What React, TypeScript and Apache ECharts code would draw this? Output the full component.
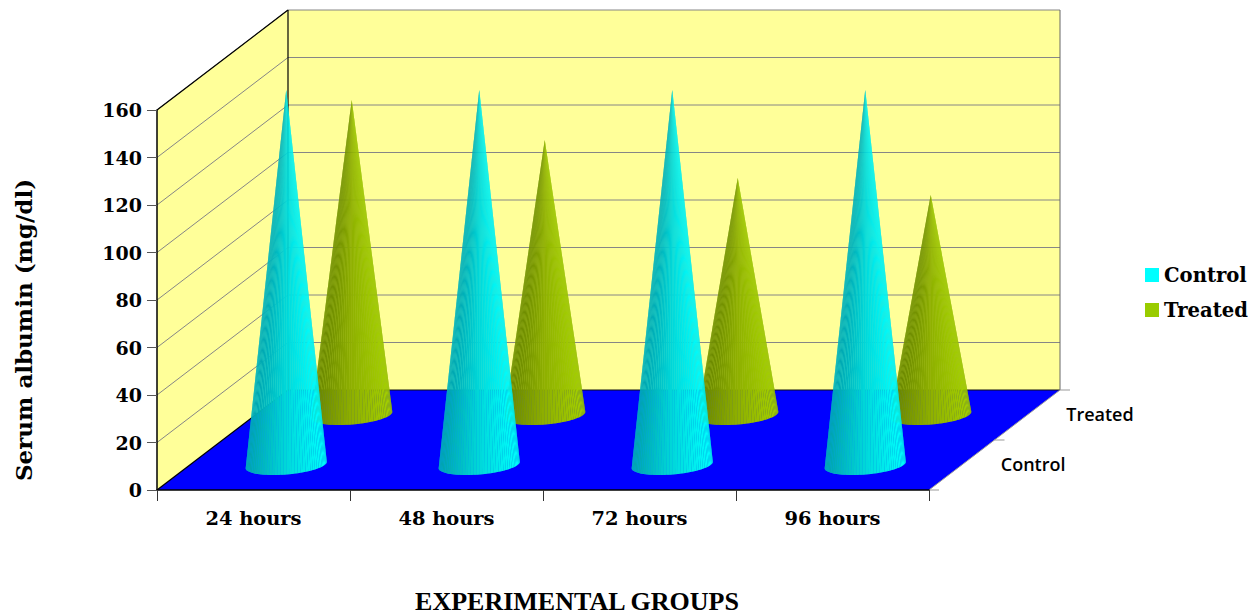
import React, { useEffect, useRef } from "react";
import * as echarts from "echarts";

const categories = ["24 hours", "48 hours", "72 hours", "96 hours"];
const controlValues = [158, 158, 158, 158];
const treatedValues = [132.6, 115.8, 99.8, 92.6];
const yTicks = [0, 20, 40, 60, 80, 100, 120, 140, 160];
const depthLabels = ["Control", "Treated"];

const DEPTH_X = 131;
const DEPTH_Y = -100;
const RADIUS_X = 38.4;
const FACETS = 44;
const SERIF = "'DejaVu Serif', serif";

type Rgb = [number, number, number];
const CONTROL_SHADE: Rgb[] = [[0, 255, 255], [0, 216, 218], [0, 160, 172]];
const TREATED_SHADE: Rgb[] = [[164, 208, 0], [142, 176, 0], [104, 132, 0]];

const mix = (stops: Rgb[], t: number) => {
  const p = Math.max(0, Math.min(1, t)) * (stops.length - 1);
  const i = Math.min(stops.length - 2, Math.floor(p));
  const f = p - i;
  const c = stops[i].map((v, k) => Math.round(v + (stops[i + 1][k] - v) * f));
  return `rgb(${c[0]},${c[1]},${c[2]})`;
};

const coneRenderer = (depth: number, stops: Rgb[]) => (_p: any, api: any) => {
  const base = api.coord([api.value(0), 0]);
  const tip = api.coord([api.value(0), api.value(1)]);
  const cx = base[0] + DEPTH_X * depth;
  const cy = base[1] + DEPTH_Y * depth;
  const ax = tip[0] + DEPTH_X * depth;
  const ay = tip[1] + DEPTH_Y * depth;
  const rDepthX = DEPTH_X * 0.1;
  const rDepthY = DEPTH_Y * 0.1;
  const end = Math.atan2(rDepthX, RADIUS_X);
  const start = end - Math.PI;
  const point = (t: number) => [
    cx + RADIUS_X * Math.cos(t) + rDepthX * Math.sin(t),
    cy + rDepthY * Math.sin(t),
  ];
  const halfW = Math.hypot(RADIUS_X, rDepthX);
  const outline: number[][] = [[ax, ay]];
  for (let i = 0; i <= FACETS; i++) outline.push(point(end - (i * (end - start)) / FACETS));
  const gradient = new echarts.graphic.LinearGradient(
    0,
    0,
    1,
    0,
    [0, 0.5, 1].map((o) => ({ offset: o, color: mix(stops, o) }))
  );
  const children: any[] = [
    {
      type: "polygon",
      silent: true,
      shape: { points: outline },
      style: { fill: gradient, opacity: 0.66 },
    },
  ];
  for (let i = FACETS - 1; i >= 0; i--) {
    const a = point(end - (i * (end - start)) / FACETS);
    const b = point(end - ((i + 1) * (end - start)) / FACETS);
    const mid = (a[0] + b[0]) / 2;
    children.push({
      type: "polygon",
      silent: true,
      shape: { points: [[ax, ay], a, b] },
      style: { fill: mix(stops, (halfW - (mid - cx)) / (2 * halfW)) },
    });
  }
  return { type: "group", children };
};

const option: any = {
  animation: false,
  backgroundColor: "#ffffff",
  legend: {
    show: true,
    data: ["Control", "Treated"],
    left: 1145,
    top: 265,
    orient: "vertical",
    icon: "rect",
    itemWidth: 14,
    itemHeight: 14,
    itemGap: 15,
    selectedMode: false,
    padding: 0,
    textStyle: { fontFamily: SERIF, fontWeight: "bold", fontSize: 19.6, color: "#000", padding: [0, 0, 0, 0] },
  },
  grid: { left: 157, top: 110, width: 772, height: 380, containLabel: false },
  xAxis: {
    type: "category",
    data: categories,
    z: 20,
    axisLine: { show: true, lineStyle: { color: "#000", width: 1.5 } },
    axisTick: { show: true, length: 11, alignWithLabel: false, lineStyle: { color: "#333", width: 1 } },
    axisLabel: { fontFamily: SERIF, fontWeight: "bold", fontSize: 19.4, color: "#000", margin: 19 },
    splitLine: { show: false },
  },
  yAxis: {
    type: "value",
    min: 0,
    max: 160,
    interval: 20,
    z: 20,
    axisLine: { show: true, lineStyle: { color: "#000", width: 1.5 } },
    axisTick: { show: true, length: 10, lineStyle: { color: "#555", width: 1 } },
    axisLabel: { fontFamily: SERIF, fontWeight: "bold", fontSize: 19, color: "#000", margin: 15 },
    splitLine: { show: false },
  },
  graphic: [
    {
      type: "text",
      x: 23,
      y: 330,
      rotation: Math.PI / 2,
      style: {
        text: "Serum albumin (mg/dl)",
        font: `bold 23px ${SERIF}`,
        fill: "#000",
        align: "center",
        verticalAlign: "middle",
      },
    },
    {
      type: "text",
      x: 577,
      y: 601,
      style: {
        text: "EXPERIMENTAL GROUPS",
        font: "bold 26px 'Liberation Serif', serif",
        fill: "#000",
        align: "center",
        verticalAlign: "middle",
      },
    },
  ],
  series: [
    {
      name: "walls",
      type: "custom",
      z: 2,
      silent: true,
      data: [[0]],
      renderItem: (_p: any, api: any) => {
        const xEnd = categories.length - 1;
        const step = api.size([1, 0])[0] / 2;
        const b0 = api.coord([0, 0]);
        const t0 = api.coord([0, yTicks[yTicks.length - 1]]);
        const bEnd = api.coord([xEnd, 0]);
        const left = b0[0] - step;
        const right = bEnd[0] + step;
        const bottom = b0[1];
        const top = t0[1];
        const back = (x: number, y: number) => [x + DEPTH_X, y + DEPTH_Y];
        const children: any[] = [
          {
            type: "polygon",
            shape: { points: [[left, bottom], back(left, bottom), back(left, top), [left, top]] },
            style: { fill: "#FFFF99" },
          },
          {
            type: "polygon",
            shape: { points: [back(left, bottom), back(right, bottom), back(right, top), back(left, top)] },
            style: { fill: "#FFFF99" },
          },
        ];
        yTicks.slice(1).forEach((tick) => {
          const y = api.coord([0, tick])[1];
          const last = tick === yTicks[yTicks.length - 1];
          children.push({
            type: "polyline",
            shape: { points: [[left, y], back(left, y), back(right, y)] },
            style: { fill: "none", stroke: "#868686", lineWidth: 1 },
          });
          if (last) {
            children.push({
              type: "line",
              shape: { x1: left, y1: y, x2: back(left, y)[0], y2: back(left, y)[1] },
              style: { stroke: "#000", lineWidth: 1.2 },
            });
          }
        });
        children.push(
          {
            type: "polygon",
            shape: { points: [[left, bottom], [right, bottom], back(right, bottom), back(left, bottom)] },
            style: { fill: "#0000FF" },
          },
          {
            type: "line",
            shape: { x1: back(left, 0)[0], y1: top + DEPTH_Y, x2: back(left, 0)[0], y2: bottom + DEPTH_Y },
            style: { stroke: "#000", lineWidth: 1.2 },
          },
          {
            type: "line",
            shape: { x1: left, y1: bottom, x2: left + DEPTH_X, y2: bottom + DEPTH_Y },
            style: { stroke: "#000", lineWidth: 1.2 },
          },
          {
            type: "line",
            shape: { x1: left + DEPTH_X, y1: bottom + DEPTH_Y, x2: right + DEPTH_X, y2: bottom + DEPTH_Y },
            style: { stroke: "#111", lineWidth: 1 },
          },
          {
            type: "line",
            shape: { x1: right + DEPTH_X, y1: top + DEPTH_Y, x2: right + DEPTH_X, y2: bottom + DEPTH_Y },
            style: { stroke: "#666", lineWidth: 1 },
          },
          {
            type: "line",
            shape: { x1: right, y1: bottom, x2: right + DEPTH_X, y2: bottom + DEPTH_Y },
            style: { stroke: "#999", lineWidth: 1 },
          }
        );
        [0, 0.5, 1].forEach((d) => {
          const x = right + DEPTH_X * d;
          const y = bottom + DEPTH_Y * d;
          children.push({
            type: "line",
            shape: { x1: x, y1: y, x2: x + 10, y2: y },
            style: { stroke: "#999", lineWidth: 1 },
          });
        });
        depthLabels.forEach((label, i) => {
          const d = (i + 0.5) / depthLabels.length;
          children.push({
            type: "text",
            x: right + DEPTH_X * d + 39,
            y: bottom + DEPTH_Y * d - 1,
            style: {
              text: label,
              font: "600 18px 'Open Sans', sans-serif",
              fill: "#000",
              align: "left",
              verticalAlign: "middle",
            },
          });
        });
        return { type: "group", children };
      },
    },
    {
      name: "Treated",
      type: "custom",
      z: 3,
      silent: true,
      itemStyle: { color: "#99CC00" },
      encode: { x: 0, y: 1 },
      data: treatedValues.map((v, i) => [i, v]),
      renderItem: coneRenderer(0.75, TREATED_SHADE),
    },
    {
      name: "Control",
      type: "custom",
      z: 4,
      silent: true,
      itemStyle: { color: "#00FFFF" },
      encode: { x: 0, y: 1 },
      data: controlValues.map((v, i) => [i, v]),
      renderItem: coneRenderer(0.25, CONTROL_SHADE),
    },
  ],
};

export default function App() {
  const ref = useRef<HTMLDivElement>(null);
  useEffect(() => {
    document.body.style.margin = "0";
    const chart = echarts.init(ref.current!, undefined, { renderer: "svg" });
    chart.setOption(option);
    return () => chart.dispose();
  }, []);
  return <div ref={ref} style={{ width: 1260, height: 614 }} />;
}
